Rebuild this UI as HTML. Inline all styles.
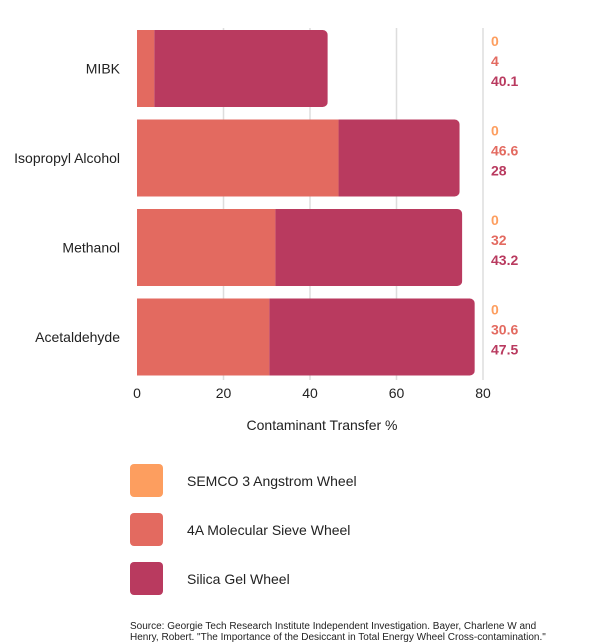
<!DOCTYPE html>
<html><head><meta charset="utf-8"><style>
body{margin:0;background:#fff;font-family:"Liberation Sans",sans-serif;}
svg{display:block}
</style></head><body>
<svg width="600" height="644">
<g id="grid"></g><g id="bars"></g><g id="labels"></g>
<text x="322" y="430" font-size="14" fill="#222" text-anchor="middle">Contaminant Transfer %</text>
<g>
<rect x="130" y="464" width="33" height="33" rx="4" fill="#fd9e5f"/>
<text x="187" y="486" font-size="14" fill="#222">SEMCO 3 Angstrom Wheel</text>
<rect x="130" y="513" width="33" height="33" rx="4" fill="#e36a60"/>
<text x="187" y="535" font-size="14" fill="#222">4A Molecular Sieve Wheel</text>
<rect x="130" y="562" width="33" height="33" rx="4" fill="#b93a5f"/>
<text x="187" y="584" font-size="14" fill="#222">Silica Gel Wheel</text>
</g>
<text x="130" y="629" font-size="10" fill="#222">Source: Georgie Tech Research Institute Independent Investigation. Bayer, Charlene W and</text>
<text x="130" y="640" font-size="10" fill="#222">Henry, Robert. "The Importance of the Desiccant in Total Energy Wheel Cross-contamination."</text>
</svg>
<script>
const categories=["MIBK","Isopropyl Alcohol","Methanol","Acetaldehyde"];
const semco=[0,0,0,0];
const sieve=[4,46.6,32,30.6];
const silica=[40.1,28,43.2,47.5];
const ticks=[0,20,40,60,80];
const NS="http://www.w3.org/2000/svg";
const x0=137,x80=483;
const X=v=>x0+(v/80)*(x80-x0);
const Y=i=>30+i*89.5;const bh=77;
function mk(t,a,p){const e=document.createElementNS(NS,t);for(const k in a)e.setAttribute(k,a[k]);p.appendChild(e);return e;}
const grid=document.getElementById('grid'),bars=document.getElementById('bars'),labels=document.getElementById('labels');
ticks.forEach(t=>{
 if(t>0){const l=mk('line',{x1:X(t),x2:X(t),y1:28,y2:380,stroke:'#ddd','stroke-width':1.5},grid);
 
 }
 const tx=mk('text',{x:X(t),y:398,'font-size':14,fill:'#222','text-anchor':'middle'},grid);tx.textContent=t;
 
 
});
const cols=['#fd9e5f','#e36a60','#b93a5f'];
categories.forEach((c,i)=>{
 const y=Y(i);
 const cl=mk('text',{x:120,y:y+bh/2+5,'font-size':14,fill:'#222','text-anchor':'end'},labels);cl.textContent=c;
 
 
 const vals=[semco[i],sieve[i],silica[i]];
 const total=vals.reduce((a,b)=>a+b,0);
 const clipId='clip'+i;
 const cp=mk('clipPath',{id:clipId},bars);
 mk('rect',{x:x0-10,y:y,width:X(total)-x0+10,height:bh,rx:5},cp);
 const g=mk('g',{'clip-path':'url(#'+clipId+')'},bars);
 let acc=0;
 vals.forEach((v,k)=>{
  const r=mk('rect',{x:X(acc),y:y,width:Math.max(0,X(acc+v)-X(acc)),height:bh,fill:cols[k]},g);
  
  
  acc+=v;
  const vt=mk('text',{x:491,y:y+16+k*20,'font-size':14,'font-weight':'bold',fill:cols[k]},labels);vt.textContent=v;
  
  
 });
});
</script>
</body></html>
